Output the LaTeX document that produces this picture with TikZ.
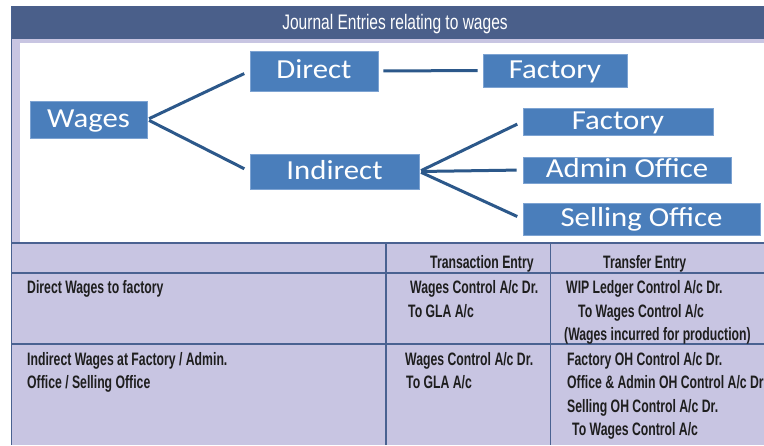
\documentclass[tikz,border=0pt]{standalone}
\usepackage{fontspec}
\usepackage{tikz}
\newfontfamily\boxfont[FakeStretch=1.12]{Carlito}
\newfontfamily\narrowfont[FakeStretch=0.68]{Liberation Sans}
\newfontfamily\titlefont[FakeStretch=0.74]{Liberation Sans}
\definecolor{barblue}{RGB}{74,95,138}
\definecolor{lavender}{RGB}{200,197,226}
\definecolor{rulecol}{RGB}{74,98,145}
\definecolor{boxblue}{RGB}{74,126,187}
\definecolor{boxedge}{RGB}{125,163,210}
\definecolor{linkblue}{RGB}{44,88,138}
\definecolor{inktext}{RGB}{30,30,30}
\tikzset{
wbox/.style={fill=boxblue, draw=boxedge, line width=0.6pt, text=white, inner sep=0pt,
  font=\boxfont\fontsize{27.5}{30}\selectfont, text height=19pt, text depth=4pt}, % blue boxes of the tree
link/.style={draw=linkblue, line width=3pt, shorten <=2pt, shorten >=6pt}, % tree branches
rule/.style={draw=rulecol, line width=1.3pt}, % table lines
cell/.style={anchor=base west, inner sep=0pt, text=inktext,
  font=\narrowfont\bfseries\fontsize{18}{20}\selectfont}, % table text
}
\begin{document}
\begin{tikzpicture}[x=1pt, y=-1pt]
\useasboundingbox (0,0) rectangle (764,445);
% frame and title bar
\fill[lavender] (11,39) rectangle (764,445);
\fill[white] (20,43) rectangle (764,242);
\fill[barblue] (11,6) rectangle (764,39);
\node[anchor=base, text=white, font=\titlefont\fontsize{21}{23}\selectfont] (title) at (395,29) {Journal Entries relating to wages};

% tree
\node[wbox, minimum width=117pt, minimum height=37pt] (wages) at (88.5,119.5) {Wages};
\node[wbox, minimum width=128pt, minimum height=40pt] (direct) at (314,71) {Direct};
\node[wbox, minimum width=169pt, minimum height=35pt] (indirect) at (334.5,171.5) {Indirect};
\node[wbox, minimum width=144pt, minimum height=33pt] (dfactory) at (555,70.5) {Factory};
\node[wbox, minimum width=190pt, minimum height=27pt] (ifactory) at (618,121.5) {Factory};
\node[wbox, minimum width=208pt, minimum height=26pt] (admin) at (627,170) {Admin Office};
\node[wbox, minimum width=237pt, minimum height=32pt] (selling) at (641.5,219) {Selling Office};
\draw[link]
(wages.east) edge (direct.west)
(wages.east) edge (indirect.west)
(direct.east) edge[shorten <=5pt, shorten >=5pt] (dfactory.west)
(indirect.east) edge (ifactory.west)
(indirect.east) edge (admin.west)
(indirect.east) edge (selling.west)
;

% table
\draw[rule] (11.5,6) -- (11.5,445);
\draw[rule] (11,243) -- (764,243);
\draw[rule] (11,273) -- (764,273);
\draw[rule] (11,344) -- (764,344);
\draw[rule] (386,243) -- (386,445);
\draw[rule] (550.5,243) -- (550.5,445);

\node[cell] (hdtrans) at (430,268) {Transaction Entry};
\node[cell] (hdtransfer) at (603,268) {Transfer Entry};

\node[cell] (dname) at (27,293) {Direct Wages to factory};
\node[cell] (dtransa) at (410,293) {Wages Control A/c Dr.};
\node[cell] (dtransb) at (408,317) {To GLA A/c};
\node[cell] (dtransfa) at (566,293) {WIP Ledger Control A/c Dr.};
\node[cell] (dtransfb) at (578,317) {To Wages Control A/c};
\node[cell] (dtransfc) at (564,340) {(Wages incurred for production)};

\node[cell] (iname) at (27,365) {Indirect Wages at Factory / Admin.};
\node[cell] (inameb) at (27,388) {Office / Selling Office};
\node[cell] (itransa) at (405,365) {Wages Control A/c Dr.};
\node[cell] (itransb) at (406,388) {To GLA A/c};
\node[cell] (itransfa) at (567,365) {Factory OH Control A/c Dr.};
\node[cell] (itransfb) at (567,388) {Office \& Admin OH Control A/c Dr};
\node[cell] (itransfc) at (567,412) {Selling OH Control A/c Dr.};
\node[cell] (itransfd) at (572,435) {To Wages Control A/c};
\end{tikzpicture}
\end{document}
